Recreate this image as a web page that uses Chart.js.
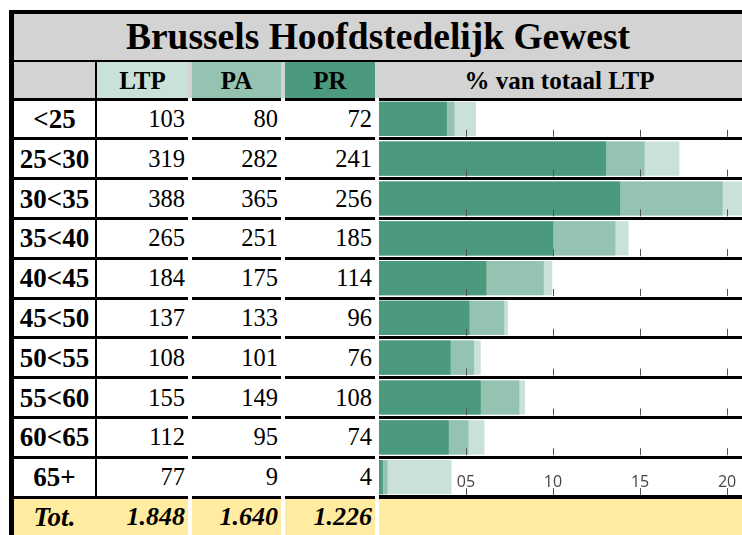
<!DOCTYPE html>
<html>
<head>
<meta charset="utf-8">
<title>Brussels Hoofdstedelijk Gewest</title>
<script src="https://cdn.jsdelivr.net/npm/chart.js@4"></script>
<style>
  body { margin: 0; background: #fff; width: 742px; height: 535px; overflow: hidden; position: relative;
         font-family: "Liberation Serif", "Times New Roman", serif; }
  .box { position: absolute; box-sizing: border-box; }
  .txt { position: absolute; box-sizing: border-box; white-space: nowrap; color: #000; }
  #bars { position: absolute; left: 379px; top: 99px; }
</style>
</head>
<body>
<div id="sheet"></div>
<canvas id="bars" width="363" height="398"></canvas>
<script>
const title = 'Brussels Hoofdstedelijk Gewest';
const chartHeader = '% van totaal LTP';
const totalLabel = 'Tot.';
const ageGroups = ['<25', '25<30', '30<35', '35<40', '40<45', '45<50', '50<55', '55<60', '60<65', '65+'];
const seriesNames = ['LTP', 'PA', 'PR'];
const ltpValues = [103, 319, 388, 265, 184, 137, 108, 155, 112, 77];
const paValues = [80, 282, 365, 251, 175, 133, 101, 149, 95, 9];
const prValues = [72, 241, 256, 185, 114, 96, 76, 108, 74, 4];
const tickValues = [5, 10, 15, 20];
const tickLabels = ['05', '10', '15', '20'];

const seriesColors = ['#c9e1d9', '#95c3b1', '#4b9a7d'];
const series = [ltpValues, paValues, prValues];

// layout of the table part
const sheet = document.getElementById('sheet');
const rowTop = 99, rowH = 39.8;
const cols = [{ x: 14, w: 81 }, { x: 97, w: 91 }, { x: 192, w: 89 }, { x: 285, w: 90 }];
const lineSegs = [[14, 188], [192, 281], [285, 375]];

function box(x, y, w, h, bg) {
    const d = document.createElement('div');
    d.className = 'box';
    Object.assign(d.style, { left: x + 'px', top: y + 'px', width: w + 'px', height: h + 'px', background: bg });
    sheet.appendChild(d);
}

function text(x, y, w, h, str, font, align, pad) {
    const d = document.createElement('div');
    d.className = 'txt';
    d.textContent = str;
    Object.assign(d.style, {
        left: x + 'px', top: y + 'px', width: w + 'px', height: h + 'px',
        font: font, textAlign: align || 'center',
        paddingRight: (pad || 0) + 'px'
    });
    d.style.lineHeight = h + 'px';
    sheet.appendChild(d);
}

function fmt(n) {
    return n.toLocaleString('de-DE');
}

// frame, title, header
box(9, 10, 733, 4, '#000');
box(9, 10, 5, 525, '#000');
box(14, 14, 728, 46, '#d3d3d3');
text(14, 14, 728, 46, title, 'bold 37.5px "Liberation Serif"');
box(14, 60, 728, 2, '#000');
box(14, 62, 728, 36, '#d3d3d3');
seriesNames.forEach((name, s) => {
    const c = cols[s + 1];
    box(c.x, 62, c.w, 36, seriesColors[s]);
    text(c.x, 62, c.w, 37, name, 'bold 25px "Liberation Serif"');
});
text(377, 62, 365, 37, chartHeader, 'bold 25px "Liberation Serif"');
[...lineSegs, [379, 742]].forEach(([a, b]) => box(a, rowTop - 1.5, b - a, 3, '#000'));

// rows
ageGroups.forEach((grp, i) => {
    const y = rowTop + rowH * i;
    text(cols[0].x, y + 1, cols[0].w, rowH - 1, grp, 'bold 27px "Liberation Serif"');
    series.forEach((vals, s) => {
        const c = cols[s + 1];
        text(c.x, y + 1, c.w, rowH - 1, String(vals[i]), '24.5px "Liberation Serif"', 'right', 3);
    });
    lineSegs.forEach(([a, b]) => box(a, y + rowH - 1.5, b - a, 3, '#000'));
});
box(379, rowTop + rowH * ageGroups.length - 1.5, 363, 3, '#000');
box(95, 62, 2, rowTop + rowH * ageGroups.length - 62, '#000');

// totals row
const totY = rowTop + rowH * ageGroups.length + 1.5;
[...lineSegs, [379, 742]].forEach(([a, b]) => box(a, totY, b - a, 535 - totY, '#ffeca0'));
text(cols[0].x, totY, cols[0].w, 36, totalLabel, 'italic bold 27px "Liberation Serif"');
series.forEach((vals, s) => {
    const c = cols[s + 1];
    const sum = vals.reduce((a, b) => a + b, 0);
    text(c.x, totY, c.w, 36, fmt(sum), 'italic bold 26px "Liberation Serif"', 'right', 3);
});

// bars: share of total LTP
const totalLtp = ltpValues.reduce((a, b) => a + b, 0);
const pct = vals => vals.map(v => v / totalLtp * 100);

// small tick marks in each row, labels only in the last row
const rowTicks = {
    id: 'rowTicks',
    afterDatasetsDraw(chart) {
        const { ctx, chartArea, scales } = chart;
        const x = scales.x;
        const n = ageGroups.length;
        const h = (chartArea.bottom - chartArea.top) / n;
        ctx.save();
        ctx.strokeStyle = '#555';
        ctx.lineWidth = 1;
        for (let i = 0; i < n; i++) {
            const bottom = chartArea.top + h * (i + 1) - 2;
            x.ticks.forEach(t => {
                const px = Math.round(x.getPixelForValue(t.value)) + 0.5;
                ctx.beginPath();
                ctx.moveTo(px, bottom - 7);
                ctx.lineTo(px, bottom);
                ctx.stroke();
            });
        }
        ctx.fillStyle = '#444';
        ctx.font = '16px "Open Sans"';
        ctx.textAlign = 'center';
        ctx.textBaseline = 'middle';
        const labelY = chartArea.bottom - 15;
        x.ticks.forEach((t, k) => {
            ctx.fillText(tickLabels[k], x.getPixelForValue(t.value), labelY);
        });
        ctx.restore();
    }
};

const ctx = document.getElementById('bars').getContext('2d');
new Chart(ctx, {
    type: 'bar',
    data: {
        labels: ageGroups,
        // PR first so it is drawn on top
        datasets: [2, 1, 0].map(s => ({
            label: seriesNames[s],
            data: pct(series[s]),
            backgroundColor: seriesColors[s],
            borderWidth: 0,
            categoryPercentage: 1,
            barPercentage: 0.86
        }))
    },
    options: {
        indexAxis: 'y',
        responsive: false,
        animation: false,
        layout: { padding: 0 },
        plugins: { legend: { display: false }, tooltip: { enabled: false } },
        scales: {
            x: {
                display: false,
                min: 0,
                max: 20.86,
                afterBuildTicks: scale => { scale.ticks = tickValues.map(v => ({ value: v })); }
            },
            y: {
                stacked: true,
                grid: { offset: true, color: '#000', lineWidth: 3, drawTicks: false },
                border: { display: false },
                ticks: { display: false }
            }
        }
    },
    plugins: [rowTicks]
});
</script>
</body>
</html>
